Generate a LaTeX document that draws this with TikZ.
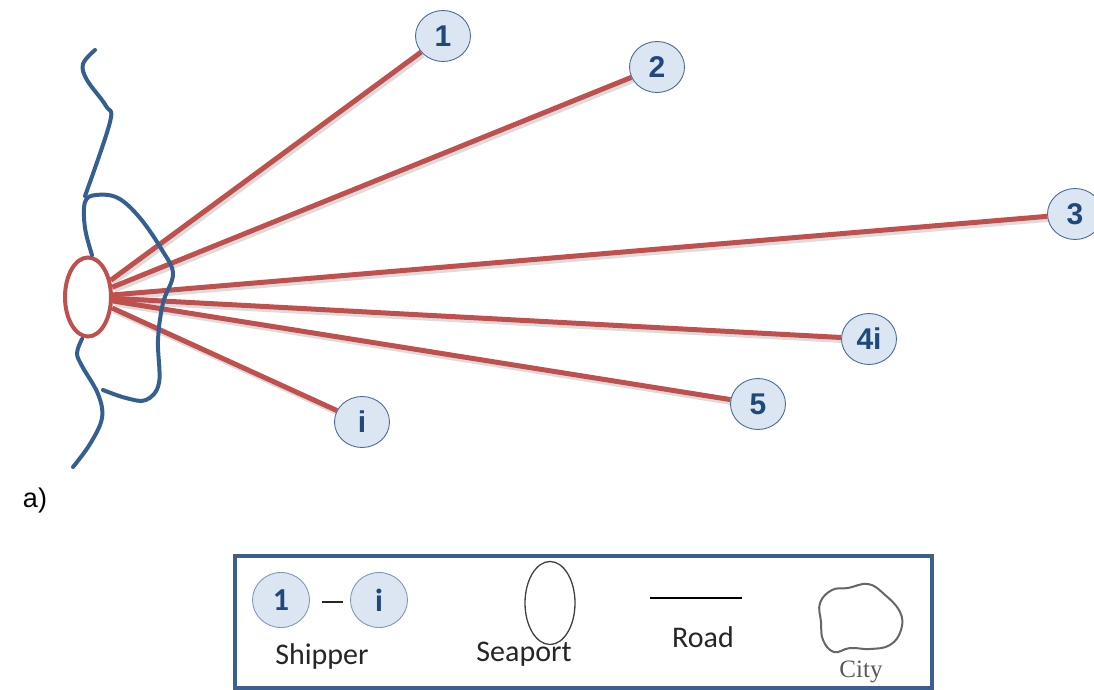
\documentclass[tikz,border=0pt]{standalone}
\usepackage{fontspec}
\setmainfont{Liberation Sans}
\newfontfamily\legfont{Carlito}
\newfontfamily\cityfont{Liberation Serif}
\usetikzlibrary{shapes.geometric,backgrounds}
\definecolor{roadred}{HTML}{C0504D}
\definecolor{coastblue}{HTML}{365F91}
\definecolor{cellfill}{HTML}{DCE6F2}
\definecolor{celledge}{HTML}{4A6C9B}
\definecolor{celltext}{HTML}{1F497D}
\definecolor{legedge}{HTML}{3B5F8F}
\begin{document}
\begin{tikzpicture}[
        x=1pt, y=-1pt,
        shipper/.style={ellipse, draw=celledge, fill=cellfill, line width=0.9pt,
                minimum width=55pt, minimum height=51pt, inner sep=0pt,
                text=celltext, font=\fontsize{30}{32}\selectfont\bfseries}, % Узлы-грузоотправители
        legcell/.style={shipper, draw=celledge!70, minimum width=57pt, minimum height=55pt,
                font=\legfont\fontsize{32}{34}\selectfont\bfseries},
        road/.style={draw=roadred, line width=5pt},
        shade/.style={draw=black!45, opacity=0.3, line width=5pt,
                transform canvas={shift={(2pt,-3pt)}}},
        coast/.style={draw=coastblue, line width=4pt, line cap=round, line join=round},
        legtext/.style={font=\legfont\fontsize{30}{32}\selectfont, text=black!85},
    ]
    \useasboundingbox (0,0) rectangle (1094,690);

    % Порт и грузоотправители
    \node[ellipse, draw=roadred, line width=4pt, fill=white,
        minimum width=46pt, minimum height=79pt, inner sep=0pt] (port) at (88,297) {};
    \node[shipper] (s1) at (443,36) {1};
    \node[shipper] (s2) at (657,67) {2};
    \node[shipper] (s3) at (1075,214) {3};
    \node[shipper] (s4i) at (869,339) {4i};
    \node[shipper] (s5) at (758,404) {5};
    \node[shipper] (si) at (362,422) {i};

    % Дороги
    \begin{scope}[on background layer]
        \foreach \t in {s1,s2,s3,s4i,s5,si} {
            \draw[shade] (port) -- (\t);
            \draw[road] (port) -- (\t);
        }
    \end{scope}

    % Берег и город
    \draw[coast] plot[smooth, tension=0.6] coordinates {(95,50) (83,64) (87,80) (106,106) (110,122) (85,196)};
    \draw[coast] plot[smooth, tension=0.6] coordinates {(92,255) (85,228) (85,202) (96,195) (118,198)
        (140,218) (162,250) (173,274) (163,303) (158,340) (159,383) (146,400) (126,398) (103,390)};
    \draw[coast] plot[smooth, tension=0.6] coordinates {(82,339) (77,353) (82,366) (98,394) (102,418) (90,444) (73,467)};

    \node[font=\fontsize{27}{29}\selectfont] (lbl) at (35,501) {a)};

    % Легенда
    \draw[draw=legedge, line width=4pt] (235,556) rectangle (932,688);
    \node[legcell] (lone) at (281,600) {1};
    \node[legcell] (li) at (379,600) {i};
    \coordinate (da) at (322,602);
    \coordinate (db) at (343,602);
    \draw[black!85, line width=1.5pt] (da) -- (db);
    \node[legtext] (lship) at (322,656) {Shipper};
    \node[ellipse, draw=black!75, line width=1.3pt, minimum width=50pt, minimum height=83pt,
        inner sep=0pt] (lport) at (550,603) {};
    \node[legtext] (lsea) at (524,654) {Seaport};
    \coordinate (rda) at (650,598);
    \coordinate (rdb) at (742,598);
    \draw[black, line width=1.4pt] (rda) -- (rdb);
    \node[legtext] (lroad) at (703,637) {Road};
    \draw[black!60, line width=2pt] plot[smooth cycle, tension=0.7] coordinates {(820,603) (832,590)
        (848,588) (868,584) (884,594) (900,612) (901,630) (890,645) (870,649) (850,648) (834,652)
        (823,640) (821,622)};
    \node[font=\cityfont\fontsize{25}{27}\selectfont, text=black!65] (lcity) at (861,672) {City};
\end{tikzpicture}
\end{document}
